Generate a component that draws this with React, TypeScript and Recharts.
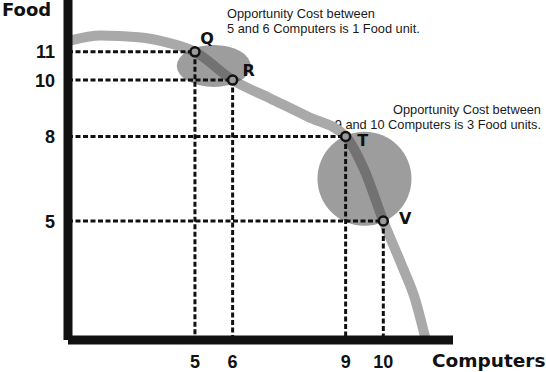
import { Customized, Line, LineChart, ReferenceDot, ReferenceLine, XAxis, YAxis } from "recharts";

// production possibilities curve (schematic)
const curveComputers = [1.68, 2.5, 3.5, 4.3, 5, 6, 7, 8, 9, 9.5, 10, 10.5, 10.85, 11.05, 11.13];
const curveFood = [11.4, 11.58, 11.52, 11.32, 11, 10, 9.35, 8.7, 8, 6.8, 5, 3.4, 2.2, 1.2, 0.78];

const pointNames = ["Q", "R", "T", "V"];
const pointComputers = [5, 6, 9, 10];
const pointFood = [11, 10, 8, 5];

const computerTicks = [5, 6, 9, 10];
const foodTicks = [5, 8, 10, 11];

const noteLines = [
  ["Opportunity Cost between", "5 and 6 Computers is 1 Food unit."],
  ["Opportunity Cost between", "9 and 10 Computers is 3 Food units."],
];

const X_DOMAIN: [number, number] = [1.63, 11.85];
const Y_DOMAIN: [number, number] = [0.78, 12.84];

const W = 546;
const H = 372;
const PLOT_LEFT = 68;
const PLOT_BOTTOM = 340;

const CURVE = "#a9a9a9";
const SHADE = "#3c3c3c";
const INK = "#111";
const BOLD_NUM = "'Liberation Sans', Arial, sans-serif";
const BOLD_WIDE = "'DejaVu Sans', sans-serif";

const nameOffsets: Record<string, [number, number]> = {
  Q: [12, -14],
  R: [16, -10],
  T: [17, 4],
  V: [22, -3],
};

const data = curveComputers.map((c, i) => ({ computers: c, food: curveFood[i] }));
const points = pointNames.map((name, i) => ({ name, x: pointComputers[i], y: pointFood[i] }));

const mid = (a: number, b: number) => (a + b) / 2;
const qr = { x: mid(pointComputers[0], pointComputers[1]), y: mid(pointFood[0], pointFood[1]) };
const tv = { x: mid(pointComputers[2], pointComputers[3]), y: mid(pointFood[2], pointFood[3]) };

function FoodTick({ y, payload }: any) {
  return (
    <text x={55} y={y} dy="0.36em" textAnchor="end" fontFamily={BOLD_NUM} fontWeight={700} fontSize={18} fill={INK}>
      {payload.value}
    </text>
  );
}

function ComputerTick({ x, payload }: any) {
  return (
    <text x={x} y={PLOT_BOTTOM + 28} textAnchor="middle" fontFamily={BOLD_NUM} fontWeight={700} fontSize={18} fill={INK}>
      {payload.value}
    </text>
  );
}

const nameLabel = (name: string) => (props: any) => {
  const vb = props.viewBox;
  const [dx, dy] = nameOffsets[name];
  return (
    <text
      x={vb.x + vb.width / 2 + dx}
      y={vb.y + vb.height / 2 + dy}
      dy="0.36em"
      textAnchor="middle"
      fontFamily={BOLD_WIDE}
      fontWeight={700}
      fontSize={16}
      fill={INK}
    >
      {name}
    </text>
  );
};

function Annotations() {
  const note = { fontFamily: "'Liberation Sans', Arial, sans-serif", fontSize: 12.8, fill: "#1a1a1a" };
  return (
    <g>
      <text x={2} y={16} fontFamily={BOLD_WIDE} fontWeight={700} fontSize={18} fill={INK}>
        Food
      </text>
      <text x={432} y={367} fontFamily={BOLD_WIDE} fontWeight={700} fontSize={18.5} fill={INK}>
        Computers
      </text>
      <text x={227} y={18} {...note}>{noteLines[0][0]}</text>
      <text x={227} y={33} {...note}>{noteLines[0][1]}</text>
      <text x={541} y={114} textAnchor="end" {...note}>{noteLines[1][0]}</text>
      <text x={541} y={129} textAnchor="end" {...note}>{noteLines[1][1]}</text>
    </g>
  );
}

export default function App() {
  return (
    <div style={{ position: "absolute", left: 0, top: 0, width: W, height: H, background: "#fff" }}>
      <LineChart width={W} height={H} data={data} margin={{ top: 0, right: W - 453, bottom: 0, left: 0 }}>
        <XAxis
          dataKey="computers"
          type="number"
          domain={X_DOMAIN}
          allowDataOverflow
          ticks={computerTicks}
          interval={0}
          tickLine={false}
          height={H - PLOT_BOTTOM}
          axisLine={{ stroke: INK, strokeWidth: 9 }}
          tick={<ComputerTick />}
        />
        <YAxis
          dataKey="food"
          type="number"
          domain={Y_DOMAIN}
          allowDataOverflow
          ticks={foodTicks}
          interval={0}
          tickLine={false}
          width={PLOT_LEFT}
          axisLine={{ stroke: INK, strokeWidth: 9 }}
          tick={<FoodTick />}
        />
        <Line
          dataKey="food"
          type="monotone"
          stroke={CURVE}
          strokeWidth={10}
          dot={false}
          activeDot={false}
          isAnimationActive={false}
          zIndex={400}
        />
        <ReferenceDot
          x={qr.x}
          y={qr.y}
          zIndex={450}
          shape={(p: any) => <ellipse cx={p.cx} cy={p.cy} rx={37} ry={21} fill={SHADE} fillOpacity={0.5} />}
        />
        <ReferenceDot x={tv.x} y={tv.y} r={47} fill={SHADE} fillOpacity={0.5} stroke="none" zIndex={450} />
        {points.map((p) => (
          <ReferenceLine
            key={`h${p.name}`}
            segment={[{ x: X_DOMAIN[0], y: p.y }, { x: p.x, y: p.y }]}
            stroke={INK}
            strokeWidth={3}
            strokeDasharray="5 2.5"
            zIndex={460}
          />
        ))}
        {points.map((p) => (
          <ReferenceLine
            key={`v${p.name}`}
            segment={[{ x: p.x, y: p.y }, { x: p.x, y: Y_DOMAIN[0] }]}
            stroke={INK}
            strokeWidth={3}
            strokeDasharray="5 2.5"
            zIndex={460}
          />
        ))}
        {points.map((p) => (
          <ReferenceDot
            key={p.name}
            x={p.x}
            y={p.y}
            r={4.5}
            fill="#9a9a9a"
            stroke={INK}
            strokeWidth={2.5}
            zIndex={700}
            label={{ content: nameLabel(p.name) }}
          />
        ))}
        <Customized component={Annotations} />
      </LineChart>
    </div>
  );
}
